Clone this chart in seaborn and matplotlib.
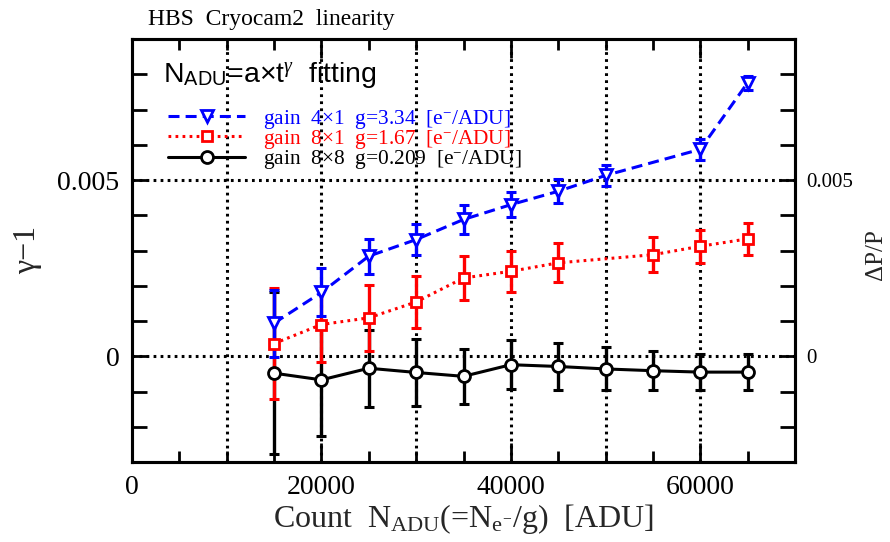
import numpy as np
import pandas as pd
import matplotlib
matplotlib.use("Agg")
import matplotlib.pyplot as plt
import seaborn as sns
from matplotlib.lines import Line2D
from matplotlib.ticker import MultipleLocator, FixedLocator

# gamma-1 from N_ADU = a * t^gamma fits, per readout gain
counts_4x1 = [15000, 20000, 25000, 30000, 35000, 40000, 45000, 50000, 60000, 65000]
gamma_4x1 = [0.00094, 0.00181, 0.00284, 0.00331, 0.00388, 0.00430, 0.00468, 0.00513, 0.00587, 0.00776]
err_4x1 = [0.00095, 0.00068, 0.00050, 0.00045, 0.00042, 0.00036, 0.00034, 0.00030, 0.00030, 0.00020]

counts_8x1 = [15000, 20000, 25000, 30000, 35000, 40000, 45000, 55000, 60000, 65000]
gamma_8x1 = [0.00036, 0.00090, 0.00109, 0.00154, 0.00222, 0.00241, 0.00265, 0.00288, 0.00312, 0.00333]
err_8x1 = [0.00157, 0.00106, 0.00094, 0.00074, 0.00063, 0.00059, 0.00055, 0.00050, 0.00047, 0.00046]

counts_8x8 = [15000, 20000, 25000, 30000, 35000, 40000, 45000, 50000, 55000, 60000, 65000]
gamma_8x8 = [-0.00048, -0.00067, -0.00034, -0.00046, -0.00057, -0.00024, -0.00029, -0.00036, -0.00041, -0.00045, -0.00045]
err_8x8 = [0.00230, 0.00158, 0.00109, 0.00095, 0.00078, 0.00070, 0.00066, 0.00061, 0.00056, 0.00051, 0.00052]

labels = [
    r"gain  4×1  g=3.34  [e$^{-}$/ADU]",
    r"gain  8×1  g=1.67  [e$^{-}$/ADU]",
    r"gain  8×8  g=0.209  [e$^{-}$/ADU]",
]

x_ticks = [0, 20000, 40000, 60000]
y_ticks = [0, 0.005]

sns.set_theme(style="ticks")
plt.rcParams.update({
    "font.family": ["Liberation Serif", "DejaVu Serif"],
    "mathtext.fontset": "custom",
    "mathtext.rm": "Liberation Serif",
    "mathtext.it": "Liberation Serif:italic",
    "mathtext.bf": "Liberation Serif:bold",
    "mathtext.sf": "Liberation Sans",
    "axes.linewidth": 2.2,
    "axes.edgecolor": "black",
    "xtick.color": "black",
    "ytick.color": "black",
    "text.color": "black",
})

LW = 2.2
MEW = 2.0

series = [
    dict(x=counts_8x8, y=gamma_8x8, e=err_8x8, color="black", marker="o", ms=8.6,
         dashes=None, label=labels[2]),
    dict(x=counts_8x1, y=gamma_8x1, e=err_8x1, color="red", marker="s", ms=7.0,
         dashes=(0.9, 1.4), label=labels[1]),
    dict(x=counts_4x1, y=gamma_4x1, e=err_4x1, color="blue", marker="v", ms=8.6,
         dashes=(3.6, 2.0), label=labels[0]),
]

fig = plt.figure(figsize=(8.9, 5.42), dpi=100)
ax = fig.add_axes([132 / 890, 80 / 542, 663 / 890, 423 / 542])
ax.set_facecolor("white")

ax.set_xlim(0, 70000)
ax.set_ylim(-0.003, 0.009)

# dotted reference grid
grid_kw = dict(color="black", lw=2.2, dashes=(0.9, 1.4), zorder=1)
for gx in np.arange(10000, 70000, 10000):
    ax.axvline(gx, **grid_kw)
for gy in y_ticks:
    ax.axhline(gy, **grid_kw)

# error bars underneath, markers and lines on top
for i, s in enumerate(series):
    ax.errorbar(s["x"], s["y"], yerr=s["e"], fmt="none", ecolor=s["color"],
                elinewidth=2.4, capsize=3.4, capthick=2.2, zorder=2 + i * 0.1)

for i, s in enumerate(series):
    df = pd.DataFrame({"count": s["x"], "gamma": s["y"]})
    sns.lineplot(data=df, x="count", y="gamma", ax=ax, color=s["color"],
                 lw=LW, marker=s["marker"], ms=s["ms"], mfc="white",
                 mec=s["color"], mew=MEW, errorbar=None, sort=False,
                 zorder=3 + i * 0.1)
    line = ax.lines[-1]
    if s["dashes"] is not None:
        line.set_dashes(s["dashes"])

ax.set_xlabel(r"Count  N$_{\rm ADU}$(=N$_{\rm e^{-}}$/g)  [ADU]", fontsize=23, labelpad=2)
ax.set_ylabel("γ−1", fontsize=23)
ax.yaxis.set_label_coords(-0.136, 0.5)

ax.xaxis.set_major_locator(FixedLocator(x_ticks))
ax.xaxis.set_minor_locator(MultipleLocator(5000))
ax.yaxis.set_major_locator(FixedLocator(y_ticks))
ax.yaxis.set_minor_locator(MultipleLocator(0.001))
ax.set_xticklabels([str(v) for v in x_ticks])
ax.set_yticklabels(["0", "0.005"])
ax.tick_params(axis="both", which="major", direction="in", length=14, width=2.0,
               labelsize=20, top=True, right=False, pad=9)
ax.tick_params(axis="both", which="minor", direction="in", length=8, width=2.0,
               top=True, right=False)
ax.tick_params(axis="y", which="both", length=11)

for sp in ax.spines.values():
    sp.set_linewidth(2.2)
    sp.set_visible(True)

# right-hand axis
ax2 = ax.twinx()
ax2.set_ylim(ax.get_ylim())
ax2.yaxis.set_major_locator(FixedLocator(y_ticks))
ax2.yaxis.set_minor_locator(MultipleLocator(0.001))
ax2.set_yticklabels(["0", "0.005"])
ax2.tick_params(axis="y", which="both", direction="in", length=11, width=2.0,
                labelsize=15, pad=8)
ax2.set_ylabel("ΔP/P", fontsize=18)
ax2.yaxis.set_label_coords(1.106, 0.49)
ax2.grid(False)
ax.grid(False)

# legend
handles = []
for s in series[::-1]:
    h = Line2D([], [], color=s["color"], lw=LW, marker=s["marker"], ms=s["ms"],
               mfc="white", mec=s["color"], mew=MEW)
    if s["dashes"] is not None:
        h.set_dashes(s["dashes"])
    handles.append(h)
leg = ax.legend(handles, labels, loc="upper left", bbox_to_anchor=(0.055, 0.838),
                frameon=False, fontsize=15.4, handlelength=3.6, handletextpad=0.8,
                labelspacing=-0.12, borderaxespad=0, borderpad=0)
for t, s in zip(leg.get_texts(), series[::-1]):
    t.set_color(s["color"])

ax.text(0.047, 0.915, r"N$_{\mathsf{ADU}}$=a×t$^{\gamma}$  fitting", transform=ax.transAxes,
        fontsize=20.5, family=["Liberation Sans", "DejaVu Sans"], ha="left", va="center")

fig.text(148 / 890, 1 - 19 / 542, "HBS  Cryocam2  linearity", fontsize=17,
         ha="left", va="center")

fig.savefig("out.png", dpi=100, facecolor="white")
